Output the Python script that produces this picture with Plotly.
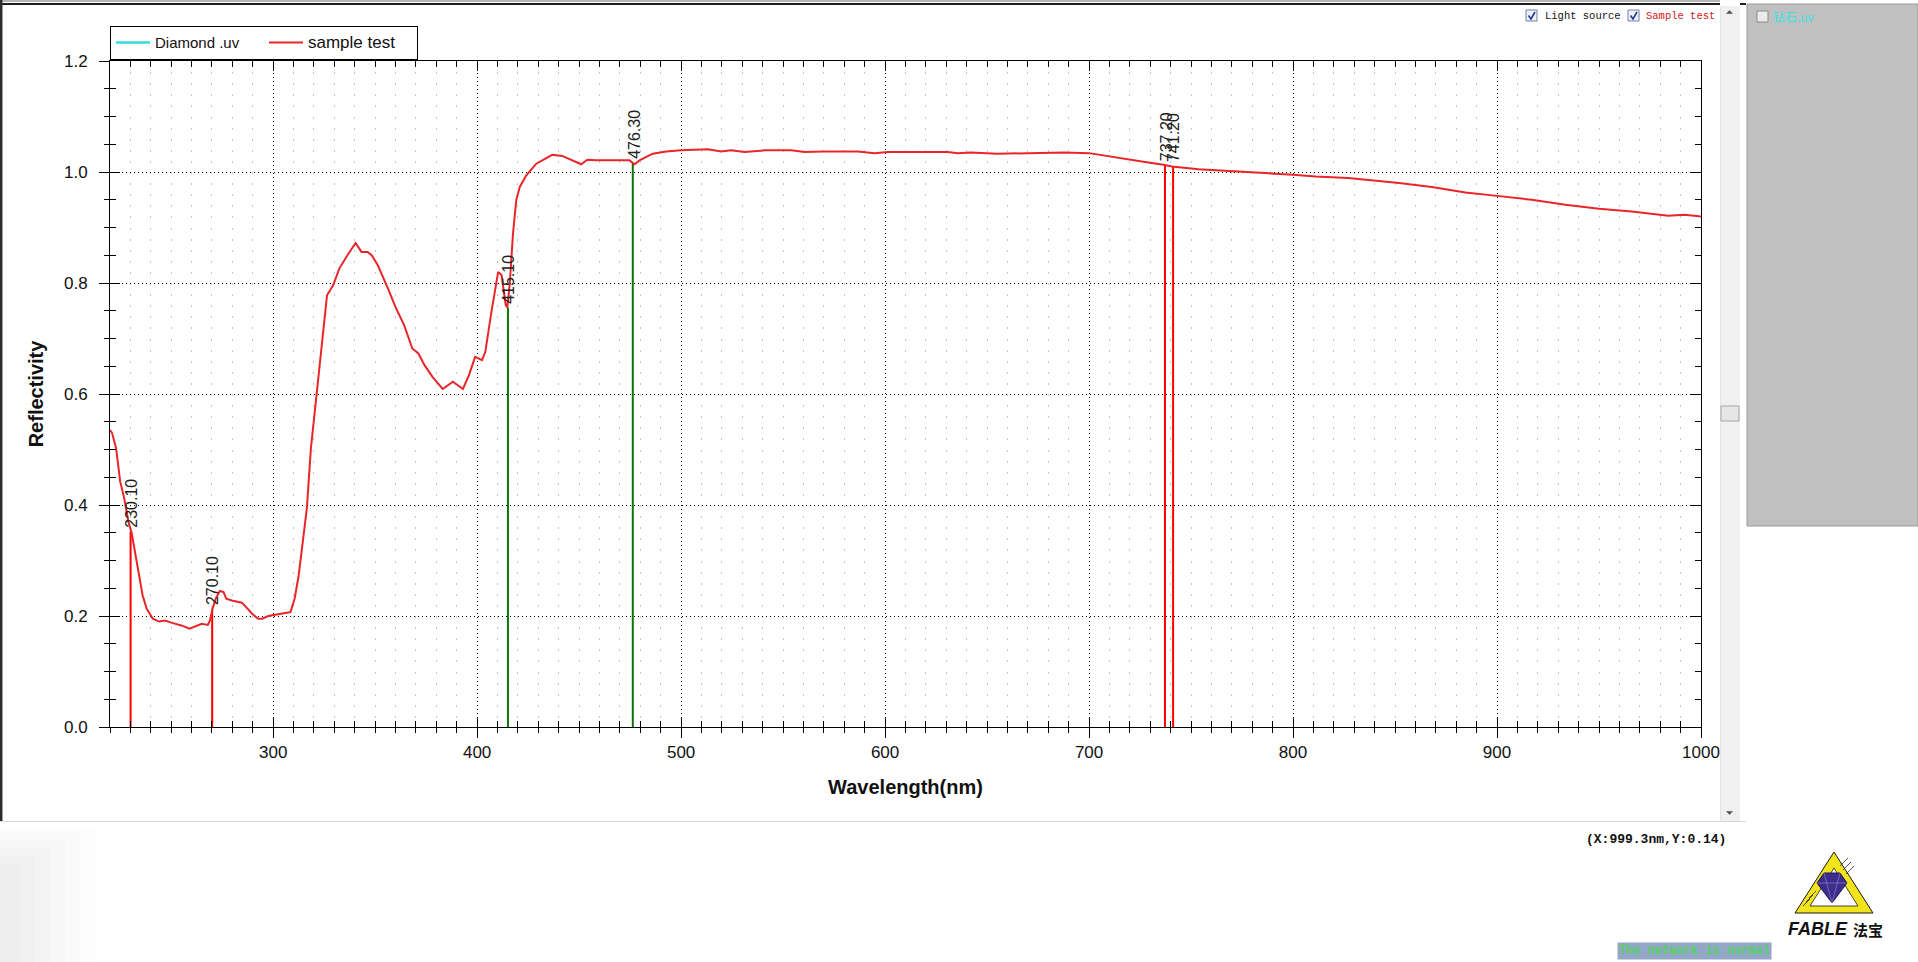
import plotly.graph_objects as go

# ---------------- data ----------------
wavelength = [220, 221, 223, 225, 227, 229, 230.6, 232, 234, 236, 238, 241, 244, 247, 250, 255, 259, 262,
              265, 268, 269, 270.2, 271.8, 273.8, 275.7, 277, 279.7, 284.7, 286.7, 289.7, 292.6, 294.6,
              297.6, 302.6, 306.6, 308.5, 310.5, 312.5, 314.5, 316.5, 318.5, 320.5, 323.5, 326.4, 329.4,
              332.4, 336.4, 340.4, 343.3, 346.3, 348.3, 351.3, 356.3, 360.3, 364.2, 368.2, 371.2, 374.2,
              378.1, 383.1, 388.1, 393, 396, 399, 402.4, 404, 407, 410.3, 412, 414, 414.8, 416, 417.6,
              419.2, 420.9, 424.1, 429, 432.3, 436.8, 441.7, 446.9, 451, 454, 458.4, 466.6, 474.7, 477.2,
              479.6, 486.1, 492.7, 500, 513, 519.6, 524.5, 531, 541, 554, 560.5, 570, 586.6, 594.8, 601.3,
              612.7, 630.7, 635.6, 642, 655, 680, 688, 700, 708, 717.7, 729, 736.5, 740.6, 753.7, 770, 786,
              800, 811, 827, 844, 852, 868, 884.5, 900, 917, 933.5, 950, 966, 984, 992, 1000]
reflectivity = [0.535, 0.53, 0.502, 0.442, 0.412, 0.37, 0.35, 0.322, 0.28, 0.237, 0.213, 0.195, 0.19, 0.192,
                0.188, 0.183, 0.177, 0.182, 0.186, 0.184, 0.192, 0.212, 0.231, 0.245, 0.243, 0.231, 0.228,
                0.224, 0.216, 0.204, 0.195, 0.195, 0.2, 0.204, 0.206, 0.207, 0.231, 0.273, 0.334, 0.394,
                0.502, 0.575, 0.682, 0.778, 0.796, 0.826, 0.85, 0.872, 0.856, 0.856, 0.85, 0.832, 0.79,
                0.754, 0.724, 0.682, 0.673, 0.652, 0.631, 0.609, 0.622, 0.609, 0.634, 0.667, 0.661, 0.676,
                0.748, 0.82, 0.814, 0.76, 0.756, 0.80, 0.89, 0.95, 0.973, 0.994, 1.015, 1.022, 1.031, 1.029,
                1.021, 1.014, 1.022, 1.021, 1.021, 1.021, 1.014, 1.021, 1.033, 1.037, 1.039, 1.041, 1.037,
                1.039, 1.036, 1.039, 1.039, 1.036, 1.037, 1.037, 1.034, 1.036, 1.036, 1.036, 1.034, 1.035,
                1.033, 1.034, 1.035, 1.034, 1.029, 1.023, 1.017, 1.013, 1.01, 1.005, 1.001, 0.998, 0.995,
                0.992, 0.989, 0.983, 0.980, 0.973, 0.963, 0.957, 0.950, 0.941, 0.934, 0.929, 0.921, 0.923,
                0.920]
peak_wl = [230.10, 270.10, 415.10, 476.30, 737.20, 741.20]
peak_refl = [0.352, 0.212, 0.756, 1.017, 1.013, 1.010]
peak_kind = ["red", "red", "green", "green", "red", "red"]
peak_labels = ["230.10", "270.10", "415.10", "476.30", "737.20", "741.20"]
series_names = ["Diamond .uv", "sample test"]

# ---------------- geometry helpers (page pixels -> paper) ----------------
W, H = 1918, 962
L, T, R, B = 110, 61, 1701, 727
PW, PH = R - L, B - T


def px(x):
    return (x - L) / PW


def py(y):
    return (B - y) / PH


ARIAL = "Liberation Sans, Arial, sans-serif"
MONO = "Liberation Mono, DejaVu Sans Mono, monospace"
kind_color = {"red": "#ff0000", "green": "#0b750b"}

fig = go.Figure()

# legend-only cyan series (not drawn in the data area)
fig.add_trace(go.Scatter(x=[None], y=[None], mode="lines",
                         name="<span style='font-size:15px'>" + series_names[0] + "</span>",
                         line=dict(color="#35dede", width=2.5)))

# peak marker lines
for w, r, k in zip(peak_wl, peak_refl, peak_kind):
    fig.add_trace(go.Scatter(x=[w, w], y=[0, r], mode="lines", showlegend=False, hoverinfo="skip",
                             line=dict(color=kind_color[k], width=2)))

# main spectrum
fig.add_trace(go.Scatter(x=wavelength, y=reflectivity, mode="lines",
                         name="<span style='font-size:17px'>" + series_names[1] + "</span>",
                         line=dict(color="#e8262a", width=2)))

# dummy trace for the outer-tick overlay axes
fig.add_trace(go.Scatter(x=[220, 1000], y=[0, 1.2], xaxis="x2", yaxis="y2", mode="none",
                         showlegend=False, hoverinfo="skip"))

annotations = []
for w, r, lab in zip(peak_wl, peak_refl, peak_labels):
    annotations.append(dict(x=w, y=r, xref="x", yref="y", text=lab, showarrow=False, textangle=-90,
                            xanchor="center", yanchor="bottom", yshift=2, xshift=1,
                            font=dict(family=ARIAL, size=16, color="#202020")))

shapes = []


def rect(x0, y0, x1, y1, fill, line=None, lw=1):
    shapes.append(dict(type="rect", xref="paper", yref="paper", x0=px(x0), x1=px(x1), y0=py(y1), y1=py(y0),
                       fillcolor=fill, line=dict(color=line or fill, width=lw if line else 0), layer="above"))


def hline(x0, x1, y, color, lw):
    shapes.append(dict(type="line", xref="paper", yref="paper", x0=px(x0), x1=px(x1), y0=py(y), y1=py(y),
                       line=dict(color=color, width=lw), layer="above"))


def vline(x, y0, y1, color, lw):
    shapes.append(dict(type="line", xref="paper", yref="paper", x0=px(x), x1=px(x), y0=py(y0), y1=py(y1),
                       line=dict(color=color, width=lw), layer="above"))


def path(points, fill, line, lw=1):
    d = "M " + " L ".join(f"{px(a):.5f},{py(b):.5f}" for a, b in points) + " Z"
    shapes.append(dict(type="path", xref="paper", yref="paper", path=d, fillcolor=fill,
                       line=dict(color=line, width=lw), layer="above"))


def openpath(points, color, lw):
    d = "M " + " L ".join(f"{px(a):.5f},{py(b):.5f}" for a, b in points)
    shapes.append(dict(type="path", xref="paper", yref="paper", path=d,
                       line=dict(color=color, width=lw), layer="above"))


def text(x, y, s, size, color, family=ARIAL, xanchor="left", **kw):
    annotations.append(dict(x=px(x), y=py(y), xref="paper", yref="paper", text=s, showarrow=False,
                            xanchor=xanchor, yanchor="middle", font=dict(family=family, size=size, color=color),
                            **kw))


# window frame
hline(0, 1720, 1, "#b4b4b4", 2)
hline(0, 1720, 4, "#1e1e1e", 2)
hline(1740, 1746, 4, "#1e1e1e", 2)
vline(1.2, 0, 821, "#2c2c2c", 2.5)
hline(0, 1746, 821.5, "#d6d6d6", 1)
# faint blurred smudge at bottom-left
for (x1, y0, a) in [(95, 826, 0.06), (80, 832, 0.07), (65, 840, 0.08), (50, 848, 0.09), (35, 856, 0.09),
                    (20, 864, 0.09)]:
    rect(0, y0, x1, 962, f"rgba(215,215,215,{a})")

# scrollbar
rect(1720, 6, 1740, 821, "#f0f0f0")
vline(1720.5, 6, 821, "#e4e4e4", 1)
rect(1721, 406, 1739, 421, "#e6e6e6", "#a6a6a6", 1)
path([(1726.5, 13.5), (1729.5, 10.5), (1732.5, 13.5)], "#505050", "#505050", 0.5)
path([(1726.5, 811.5), (1729.5, 814.5), (1732.5, 811.5)], "#505050", "#505050", 0.5)

# right grey panel
rect(1747, 4, 1918, 526, "#c0c0c0", "#9c9c9c", 1)
rect(1757, 11, 1768, 22, "#ececec", "#8a8a8a", 1)
text(1771, 16.5, "钻石.uv", 12, "#3ee0e0", family="Noto Sans CJK SC")

# checkboxes top-right
for x0 in (1526, 1628):
    rect(x0, 10, x0 + 11, 21, "#eef0f8", "#7080a8", 1)
    openpath([(x0 + 2.5, 15.5), (x0 + 5, 19), (x0 + 9, 12)], "#23389a", 1.6)
text(1543, 16, "Light source", 10.5, "#111111", family=MONO)
text(1644, 16, "Sample test", 10.5, "#d01818", family=MONO)

# status texts
text(1656, 839, "<b>(X:999.3nm,Y:0.14)</b>", 13, "#111111", family=MONO, xanchor="center")
text(1694, 951, "The network is normal", 12, "#37e337", family=MONO, xanchor="center",
     bgcolor="#93a7c6", borderpad=1)

# FABLE logo
path([(1795, 913), (1834, 852), (1873, 913)], "#f2e41c", "#1a1a1a", 1)
path([(1810, 906), (1834, 868), (1858, 906)], "#ffffff", "#1a1a1a", 0.8)
for i in range(3):
    openpath([(1840 + i * 3, 866 + i * 4), (1848 + i * 3, 858 + i * 4)], "#2a2a2a", 0.8)
    openpath([(1803 + i * 3, 906 - i * 4), (1810 + i * 3, 899 - i * 4)], "#2a2a2a", 0.8)
path([(1817, 883), (1824, 873), (1840, 873), (1847, 883), (1832, 903)], "#3d2c8c", "#20164f", 1)
openpath([(1817, 883), (1847, 883)], "#8c80d0", 0.7)
openpath([(1824, 873), (1832, 903), (1840, 873)], "#8c80d0", 0.7)
text(1818, 929, "<b><i>FABLE</i></b>", 18, "#111111", xanchor="center")
text(1868, 929, "<b>法宝</b>", 15, "#111111", family="Noto Sans CJK SC", xanchor="center")

fig.update_layout(
    width=W, height=H,
    margin=dict(l=L, r=W - R, t=T, b=H - B, pad=0),
    paper_bgcolor="white", plot_bgcolor="white",
    showlegend=True,
    legend=dict(orientation="h", x=0, xanchor="left", y=py(26), yanchor="top",
                bordercolor="#000000", borderwidth=1, bgcolor="white",
                font=dict(family=ARIAL, size=14, color="#111111"), itemwidth=34,
                entrywidth=104, tracegroupgap=0),
    xaxis=dict(range=[220, 1000], fixedrange=True, tick0=0, dtick=100, ticks="inside", ticklen=10,
               tickcolor="black", showline=True, linecolor="black", linewidth=1, mirror="ticks",
               showticklabels=False, showgrid=True, gridcolor="black", gridwidth=1, griddash="1px,3px",
               zeroline=False,
               minor=dict(tick0=0, dtick=10, ticks="inside", ticklen=6, tickcolor="black",
                          showgrid=True, gridcolor="#c4c4c4", gridwidth=1, griddash="2px,9.1px")),
    yaxis=dict(range=[0, 1.2], fixedrange=True, tick0=0, dtick=0.2, ticks="inside", ticklen=10,
               tickcolor="black", showline=True, linecolor="black", linewidth=1, mirror="ticks",
               showticklabels=False, showgrid=True, gridcolor="black", gridwidth=1, griddash="1px,3px",
               zeroline=False,
               minor=dict(tick0=0, dtick=0.05, ticks="inside", ticklen=6, tickcolor="black", showgrid=False)),
    xaxis2=dict(overlaying="x", anchor="y", side="bottom", range=[220, 1000], fixedrange=True, tick0=0,
                dtick=100, ticks="outside", ticklen=10, tickcolor="black", showline=False, showgrid=False,
                zeroline=False, tickfont=dict(family=ARIAL, size=17, color="#111111"),
                minor=dict(tick0=0, dtick=10, ticks="outside", ticklen=5, tickcolor="black", showgrid=False),
                title=dict(text="<b>Wavelength(nm)</b>", standoff=18,
                           font=dict(family=ARIAL, size=20, color="#111111"))),
    yaxis2=dict(overlaying="y", anchor="x", side="left", range=[0, 1.2], fixedrange=True, tick0=0,
                dtick=0.2, ticks="outside", ticklen=10, tickcolor="black", showline=False, showgrid=False,
                zeroline=False, tickformat=".1f", ticklabelstandoff=8,
                tickfont=dict(family=ARIAL, size=17, color="#111111"),
                minor=dict(tick0=0, dtick=0.05, ticks="outside", ticklen=5, tickcolor="black", showgrid=False),
                title=dict(text="<b>Reflectivity</b>", standoff=14,
                           font=dict(family=ARIAL, size=20, color="#111111"))),
    shapes=shapes,
    annotations=annotations,
)

fig.write_html("out.html", config={"displayModeBar": False},
               post_script="document.body.style.margin='0';document.body.style.overflow='hidden';")
